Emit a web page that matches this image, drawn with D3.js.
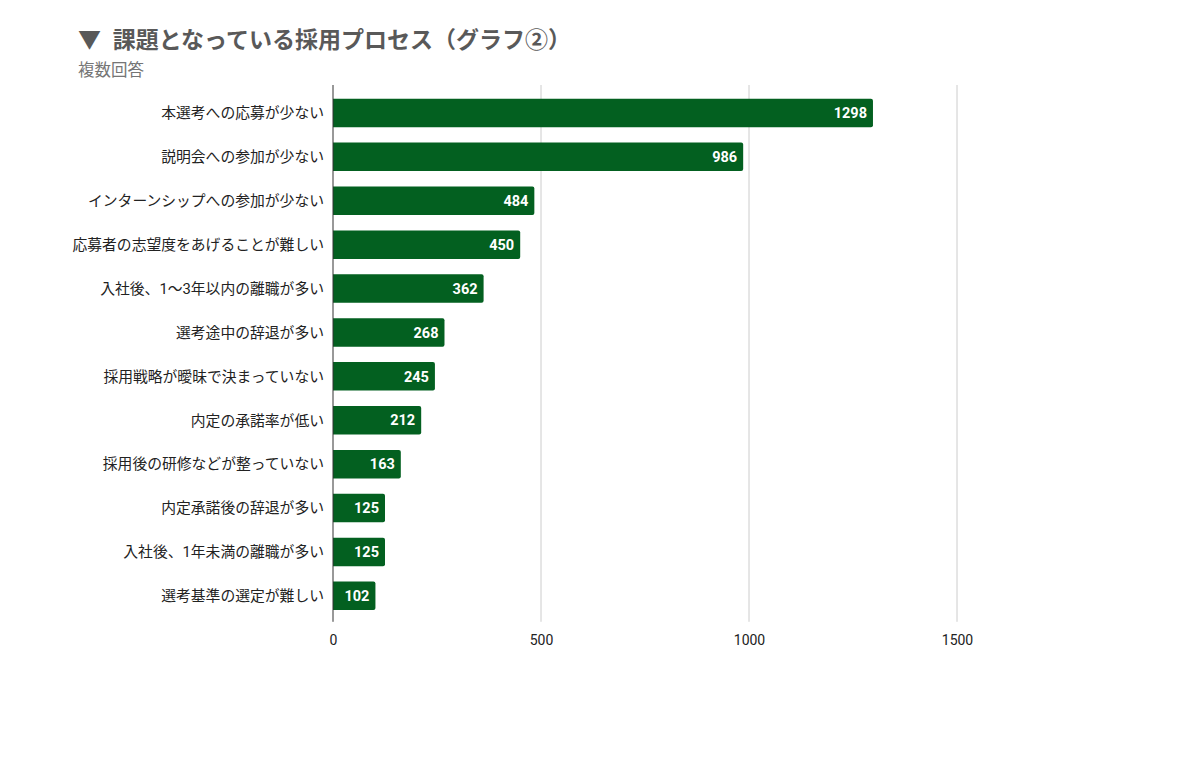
<!DOCTYPE html>
<html>
<head>
<meta charset="utf-8">
<script src="https://cdn.jsdelivr.net/npm/d3@7"></script>
<style>
  body { margin: 0; background: #fff; }
  text { font-family: Roboto, "Noto Sans CJK JP", sans-serif; }
  .title { font-size: 23px; font-weight: bold; fill: #595959; }
  .subtitle { font-size: 16.5px; fill: #757575; }
  .cat { font-size: 14.8px; fill: #222; }
  .val { font-size: 14.5px; font-weight: bold; fill: #fff; }
  .tick text { font-size: 14px; fill: #222; }
</style>
</head>
<body>
<div id="chart"></div>
<script>
const categories = [
  "本選考への応募が少ない",
  "説明会への参加が少ない",
  "インターンシップへの参加が少ない",
  "応募者の志望度をあげることが難しい",
  "入社後、1〜3年以内の離職が多い",
  "選考途中の辞退が多い",
  "採用戦略が曖昧で決まっていない",
  "内定の承諾率が低い",
  "採用後の研修などが整っていない",
  "内定承諾後の辞退が多い",
  "入社後、1年未満の離職が多い",
  "選考基準の選定が難しい"
];
const values = [1298, 986, 484, 450, 362, 268, 245, 212, 163, 125, 125, 102];
const xTicks = [0, 500, 1000, 1500];

const width = 1202, height = 758;
const margin = {top: 91, right: 120, bottom: 140, left: 333};

const svg = d3.select("#chart").append("svg")
  .attr("width", width).attr("height", height);

// domain chosen so 500 units ~ 208px
const x = d3.scaleLinear()
  .domain([0, 1800])
  .range([margin.left, margin.left + 1800 * 0.416]);

const y = d3.scaleBand()
  .domain(categories)
  .range([margin.top, margin.top + 43.9 * categories.length])
  .paddingInner(0.35)
  .paddingOuter(0.175);

const plotBottom = y.range()[1];

svg.append("text").attr("class", "title")
  .attr("x", 78).attr("y", 48)
  .text("▼\u2002課題となっている採用プロセス（グラフ②）");
svg.append("text").attr("class", "subtitle")
  .attr("x", 78).attr("y", 76)
  .text("複数回答");

// gridlines
svg.append("g").selectAll("line")
  .data(xTicks.slice(1))
  .join("line")
  .attr("x1", d => x(d)).attr("x2", d => x(d))
  .attr("y1", 85).attr("y2", plotBottom + 4)
  .attr("stroke", "#ccc").attr("stroke-width", 1);

// bars
svg.append("g").selectAll("path")
  .data(values)
  .join("path")
  .attr("fill", "#036020")
  .attr("d", (d, i) => {
    const x0 = x(0), x1 = x(d), y0 = y(categories[i]), h = y.bandwidth(), r = 2;
    return `M${x0},${y0}H${x1 - r}Q${x1},${y0} ${x1},${y0 + r}V${y0 + h - r}Q${x1},${y0 + h} ${x1 - r},${y0 + h}H${x0}Z`;
  });

// value labels
svg.append("g").selectAll("text")
  .data(values)
  .join("text")
  .attr("class", "val")
  .attr("text-anchor", "end")
  .attr("x", d => x(d) - 6)
  .attr("y", (d, i) => y(categories[i]) + y.bandwidth() / 2)
  .attr("dy", "0.36em")
  .text(d => d);

// category labels
svg.append("g").selectAll("text")
  .data(categories)
  .join("text")
  .attr("class", "cat")
  .attr("text-anchor", "end")
  .attr("x", margin.left - 9)
  .attr("y", d => y(d) + y.bandwidth() / 2)
  .attr("dy", "0.36em")
  .text(d => d);

// baseline axis
svg.append("line")
  .attr("x1", x(0)).attr("x2", x(0))
  .attr("y1", 85).attr("y2", plotBottom + 4)
  .attr("stroke", "#333").attr("stroke-width", 1);

const xAxis = d3.axisBottom(x).tickValues(xTicks).tickFormat(d3.format("d"))
  .tickSize(0).tickPadding(13);
svg.append("g")
  .attr("transform", `translate(0,${plotBottom + 4})`)
  .call(xAxis)
  .call(g => g.select(".domain").remove());
</script>
</body>
</html>
